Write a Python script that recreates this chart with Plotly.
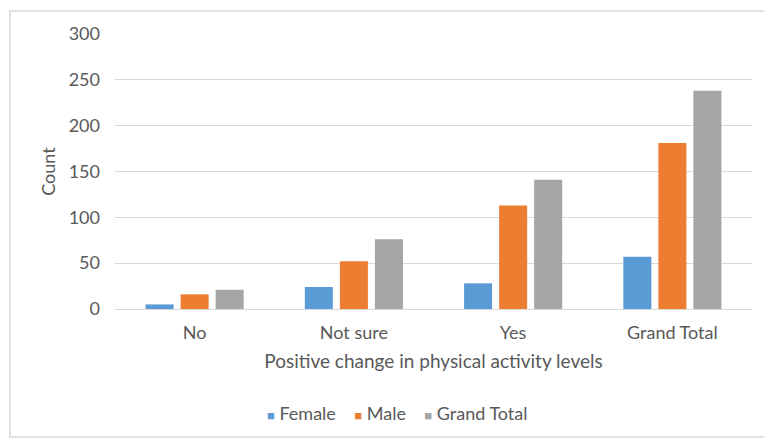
import plotly.graph_objects as go

categories = ["No", "Not sure", "Yes", "Grand Total"]
female = [5, 24, 28, 57]
male = [16, 52, 113, 181]
grand_total = [21, 76, 141, 238]
y_ticks = [0, 50, 100, 150, 200, 250, 300]

series = [
    ("Female", female, "#5B9BD5"),
    ("Male", male, "#ED7D31"),
    ("Grand Total", grand_total, "#A5A5A5"),
]

FONT = "Lato, 'Open Sans', sans-serif"
TEXT = "#595959"
GRID = "#D9D9D9"

fig = go.Figure()
for name, vals, color in series:
    fig.add_trace(go.Bar(x=categories, y=vals, name=name, marker_color=color,
                         marker_line_width=0, showlegend=False))

# compact Excel-style legend: small coloured square followed by the name
legend_text = "&nbsp;&nbsp;&nbsp;&nbsp;".join(
    f"<span style='color:{c};font-size:13px'>■</span> {n}" for n, _, c in series
)

fig.update_layout(
    width=764, height=438,
    margin=dict(l=115, r=12, t=34, b=129),
    paper_bgcolor="white", plot_bgcolor="white",
    font=dict(family=FONT, color=TEXT, size=18),
    barmode="group", bargap=0.34, bargroupgap=0.2,
    xaxis=dict(showgrid=False, showline=False, ticks="",
               ticklabelstandoff=11,
               tickfont=dict(size=18, color=TEXT),
               title=dict(text="Positive change in physical activity levels",
                          font=dict(size=19, color=TEXT), standoff=12)),
    yaxis=dict(range=[0, 300], tickvals=y_ticks, showgrid=True,
               gridcolor=GRID, gridwidth=1, zeroline=True,
               zerolinecolor=GRID, zerolinewidth=1, showline=False,
               ticks="", ticklabelstandoff=14,
               tickfont=dict(size=18, color=TEXT),
               title=dict(text="Count", font=dict(size=18, color=TEXT),
                          standoff=8)),
    annotations=[dict(text=legend_text, xref="paper", yref="paper",
                      x=0.443, y=-0.378, xanchor="center", yanchor="middle",
                      showarrow=False, font=dict(size=18, color=TEXT))],
    shapes=[dict(type="rect", xref="paper", yref="paper",
                 x0=-0.165, x1=1.03, y0=-0.465, y1=1.0836,
                 line=dict(color="#D9D9D9", width=1.5), layer="below")],
)

fig.write_html("out.html")
